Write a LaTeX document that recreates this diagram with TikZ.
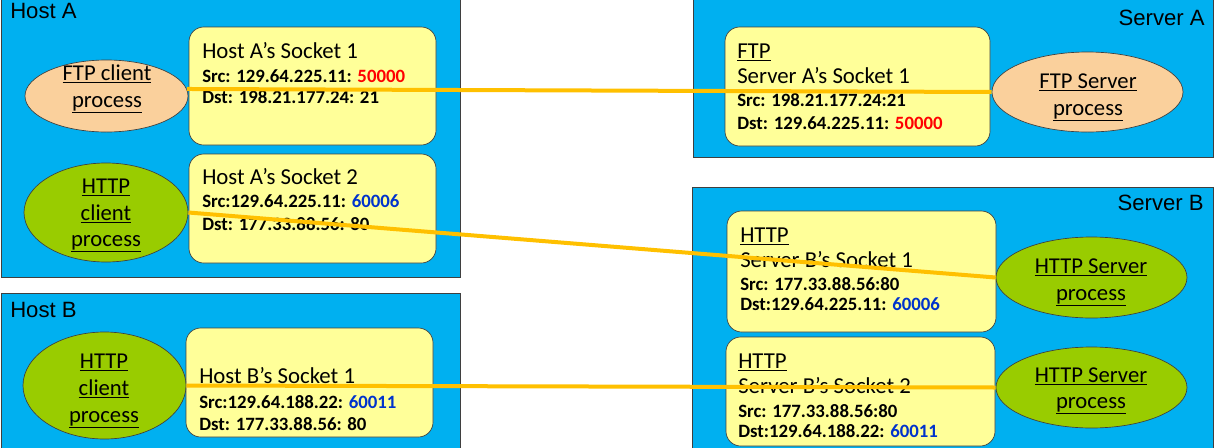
\documentclass[tikz,border=0pt]{standalone}
\usepackage{fontspec}
\setmainfont{Carlito}
\newfontfamily\labelfont{Liberation Sans}
\usetikzlibrary{shapes.geometric,fit}
\definecolor{boxblue}{HTML}{00B0F0}
\definecolor{sockyellow}{HTML}{FFFF99}
\definecolor{peach}{HTML}{FAD09C}
\definecolor{procgreen}{HTML}{99CC00}
\definecolor{linkorange}{HTML}{FFC000}
\definecolor{portred}{HTML}{FF0000}
\definecolor{portblue}{HTML}{0033CC}
\definecolor{edgegray}{HTML}{3F3F3F}
\begin{document}
\begin{tikzpicture}[x=0.75pt,y=-0.75pt,
  machine/.style={draw=edgegray, fill=boxblue, line width=0.6pt, inner sep=0pt},
  socket/.style={draw=edgegray, fill=sockyellow, line width=0.5pt, rounded corners=11pt, inner sep=0pt},
  proc/.style={ellipse, draw=edgegray, line width=0.5pt, inner sep=0pt},
  mlabel/.style={font=\labelfont\fontsize{16.6}{19}\selectfont, inner sep=0pt},
  ttl/.style={anchor=base west, inner sep=0pt, font=\fontsize{17.1}{20}\selectfont},
  bl/.style={anchor=base west, inner sep=0pt, font=\fontsize{14.1}{17}\selectfont\bfseries},
  pl/.style={anchor=base, inner sep=0pt, font=\fontsize{17}{20}\selectfont},
  link/.style={draw=linkorange, line width=3pt}
]
\useasboundingbox (0,0) rectangle (1215,447);

% machines
\node[machine, fit={(1,-2) (460,277)}] (hostA) {};
\node[machine, fit={(1,293) (460,450)}] (hostB) {};
\node[machine, fit={(693,-2) (1213,157)}] (servA) {};
\node[machine, fit={(692,187) (1213,450)}] (servB) {};

\node[mlabel, anchor=base west] (hostAlbl) at (10,18) {Host A};
\node[mlabel, anchor=base west] (hostBlbl) at (10,317) {Host B};
\node[mlabel, anchor=base east] (servAlbl) at (1205,25) {Server A};
\node[mlabel, anchor=base east] (servBlbl) at (1204,210) {Server B};

% sockets
\node[socket, fit={(189,27) (436,145)}] (sA1) {};
\node[socket, fit={(189,154) (436,263)}] (sA2) {};
\node[socket, fit={(186,328) (433,437)}] (sB1) {};
\node[socket, fit={(725,27) (990,146)}] (svA1) {};
\node[socket, fit={(727,211) (996,332)}] (svB1) {};
\node[socket, fit={(726,337) (995,446)}] (svB2) {};

% processes
\node[proc, fill=peach, minimum width=122.25pt, minimum height=54pt] (ftpc) at (106.5,96) {};
\node[proc, fill=procgreen, minimum width=123pt, minimum height=74.25pt] (httpca) at (106,212.5) {};
\node[proc, fill=procgreen, minimum width=122.25pt, minimum height=80.25pt] (httpcb) at (104.5,385.5) {};
\node[proc, fill=peach, minimum width=143.25pt, minimum height=60pt] (ftps) at (1087.5,92) {};
\node[proc, fill=procgreen, minimum width=143.25pt, minimum height=60.75pt] (https1) at (1091.5,277.5) {};
\node[proc, fill=procgreen, minimum width=143.25pt, minimum height=60.75pt] (https2) at (1091.5,387.5) {};

% process labels
\node[pl] (ftpc1) at (107,80) {\underline{FTP client}};
\node[pl] (ftpc2) at (107,107) {\underline{process}};
\node[pl] (httpca1) at (106,193) {\underline{HTTP}};
\node[pl] (httpca2) at (106,220) {\underline{client}};
\node[pl] (httpca3) at (106,246) {\underline{process}};
\node[pl] (httpcb1) at (104,368) {\underline{HTTP}};
\node[pl] (httpcb2) at (104,395) {\underline{client}};
\node[pl] (httpcb3) at (104,422) {\underline{process}};
\node[pl] (ftps1) at (1088,88) {\underline{FTP Server}};
\node[pl] (ftps2) at (1088,115) {\underline{process}};
\node[pl] (https11) at (1091,273) {\underline{HTTP Server}};
\node[pl] (https12) at (1091,300) {\underline{process}};
\node[pl] (https21) at (1091,382) {\underline{HTTP Server}};
\node[pl] (https22) at (1091,408) {\underline{process}};

% socket texts
\node[ttl] (sA1t) at (202,58) {Host A’s Socket 1};
\node[bl] (sA1s) at (202,82) {Src: 129.64.225.11: \textcolor{portred}{50000}};
\node[bl] (sA1d) at (202,103) {Dst: 198.21.177.24: 21};

\node[ttl] (sA2t) at (202,184) {Host A’s Socket 2};
\node[bl] (sA2s) at (202,207) {Src:129.64.225.11: \textcolor{portblue}{60006}};
\node[bl] (sA2d) at (202,230) {Dst: 177.33.88.56: 80};

\node[ttl] (sB1t) at (199,383) {Host B’s Socket 1};
\node[bl] (sB1s) at (199,408) {Src:129.64.188.22: \textcolor{portblue}{60011}};
\node[bl] (sB1d) at (199,430) {Dst: 177.33.88.56: 80};

\node[ttl] (svA1p) at (737,58) {\underline{FTP}};
\node[ttl] (svA1t) at (737,83) {Server A’s Socket 1};
\node[bl] (svA1s) at (737,106) {Src: 198.21.177.24:21};
\node[bl] (svA1d) at (737,129) {Dst: 129.64.225.11: \textcolor{portred}{50000}};

\node[ttl] (svB1p) at (740,242) {\underline{HTTP}};
\node[ttl] (svB1t) at (740,267) {Server B’s Socket 1};
\node[bl] (svB1s) at (740,290) {Src: 177.33.88.56:80};
\node[bl] (svB1d) at (740,310) {Dst:129.64.225.11: \textcolor{portblue}{60006}};

\node[ttl] (svB2p) at (738,368) {\underline{HTTP}};
\node[ttl] (svB2t) at (738,393) {Server B’s Socket 2};
\node[bl] (svB2s) at (738,417) {Src: 177.33.88.56:80};
\node[bl] (svB2d) at (738,437) {Dst:129.64.188.22: \textcolor{portblue}{60011}};

% connections
\draw[link] (ftpc.5) -- (ftps.west);
\draw[link] (httpca.east) -- (https1.west);
\draw[link] (httpcb.east) -- (https2.west);
\end{tikzpicture}
\end{document}
